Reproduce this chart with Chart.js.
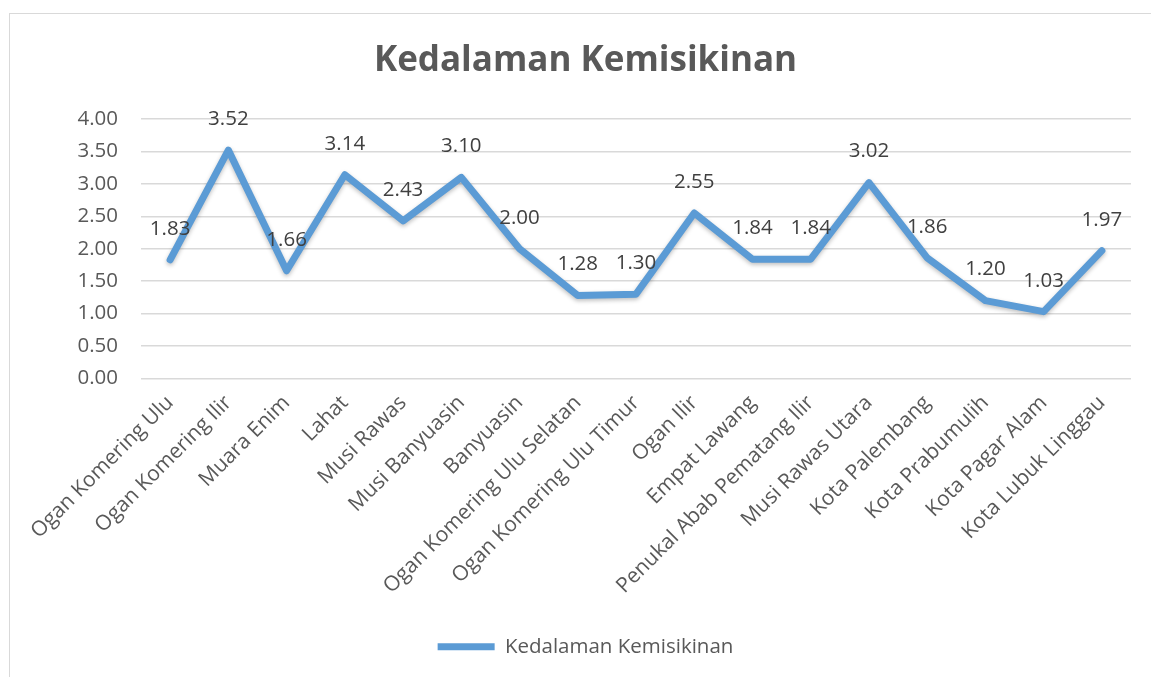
<!DOCTYPE html>
<html>
<head>
<meta charset="utf-8">
<script src="https://cdn.jsdelivr.net/npm/chart.js@4.4.0/dist/chart.umd.min.js"></script>
<style>
  html, body { margin: 0; padding: 0; background: #fff; overflow: hidden; }
  #frame { position: absolute; left: 9px; top: 13px; width: 1160px; height: 690px; border: 1px solid #d9d9d9; }
  #wrap { position: absolute; left: 0; top: 0; width: 1151px; height: 677px; }
</style>
</head>
<body>
<div id="frame"></div>
<div id="wrap"><canvas id="chart"></canvas></div>
<script>
// data
const kabupaten = [
  'Ogan Komering Ulu', 'Ogan Komering Ilir', 'Muara Enim', 'Lahat', 'Musi Rawas',
  'Musi Banyuasin', 'Banyuasin', 'Ogan Komering Ulu Selatan', 'Ogan Komering Ulu Timur',
  'Ogan Ilir', 'Empat Lawang', 'Penukal Abab Pematang Ilir', 'Musi Rawas Utara',
  'Kota Palembang', 'Kota Prabumulih', 'Kota Pagar Alam', 'Kota Lubuk Linggau'
];
const kedalaman = [1.83, 3.52, 1.66, 3.14, 2.43, 3.10, 2.00, 1.28, 1.30, 2.55, 1.84, 1.84, 3.02, 1.86, 1.20, 1.03, 1.97];
const seriesName = 'Kedalaman Kemisikinan';

const FONT = '"Open Sans", sans-serif';

// values above each point, the way Excel does it
const valueLabels = {
  id: 'valueLabels',
  afterDatasetsDraw(chart) {
    const ctx = chart.ctx;
    const meta = chart.getDatasetMeta(0);
    ctx.save();
    ctx.font = '20.5px ' + FONT;
    ctx.fillStyle = '#404040';
    ctx.textAlign = 'center';
    ctx.textBaseline = 'middle';
    meta.data.forEach((pt, i) => {
      ctx.fillText(kedalaman[i].toFixed(2), pt.x, pt.y - 31);
    });
    ctx.restore();
  }
};

const lineShadow = {
  id: 'lineShadow',
  beforeDatasetDraw(chart) {
    const ctx = chart.ctx;
    ctx.save();
    ctx.shadowColor = 'rgba(0,0,0,0.25)';
    ctx.shadowBlur = 4;
    ctx.shadowOffsetY = 2;
  },
  afterDatasetDraw(chart) {
    chart.ctx.restore();
  }
};

new Chart(document.getElementById('chart'), {
  type: 'line',
  data: {
    labels: kabupaten,
    datasets: [{
      label: seriesName,
      data: kedalaman,
      borderColor: '#5B9BD5',
      backgroundColor: '#5B9BD5',
      borderWidth: 7,
      borderCapStyle: 'round',
      borderJoinStyle: 'round',
      pointRadius: 0,
      pointHoverRadius: 0,
      tension: 0,
      pointStyle: 'line'
    }]
  },
  options: {
    responsive: true,
    maintainAspectRatio: false,
    animation: false,
    layout: { padding: { left: 40, right: 20, top: 20, bottom: 10 } },
    plugins: {
      title: {
        display: true,
        text: 'Kedalaman Kemisikinan',
        color: '#595959',
        font: { family: FONT, size: 35, weight: 'bold' },
        padding: { top: 20, bottom: 37 }
      },
      legend: {
        position: 'bottom',
        labels: {
          usePointStyle: true,
          pointStyleWidth: 57,
          color: '#595959',
          font: { family: FONT, size: 20.5 }
        }
      },
      tooltip: { enabled: false }
    },
    scales: {
      x: {
        offset: true,
        grid: { display: false, drawTicks: false },
        border: { display: false },
        ticks: {
          autoSkip: false,
          minRotation: 45,
          maxRotation: 45,
          padding: 12,
          color: '#595959',
          font: { family: FONT, size: 21 }
        },
        afterFit(scale) { scale.height = 248; }
      },
      y: {
        min: 0,
        max: 4,
        grid: { color: '#d9d9d9', lineWidth: 1.5, drawTicks: false },
        border: { display: false },
        ticks: {
          stepSize: 0.5,
          padding: 23,
          color: '#595959',
          font: { family: FONT, size: 20.5 },
          callback: v => Number(v).toFixed(2)
        },
        afterFit(scale) { scale.width = 101; }
      }
    }
  },
  plugins: [lineShadow, valueLabels]
});
</script>
</body>
</html>
